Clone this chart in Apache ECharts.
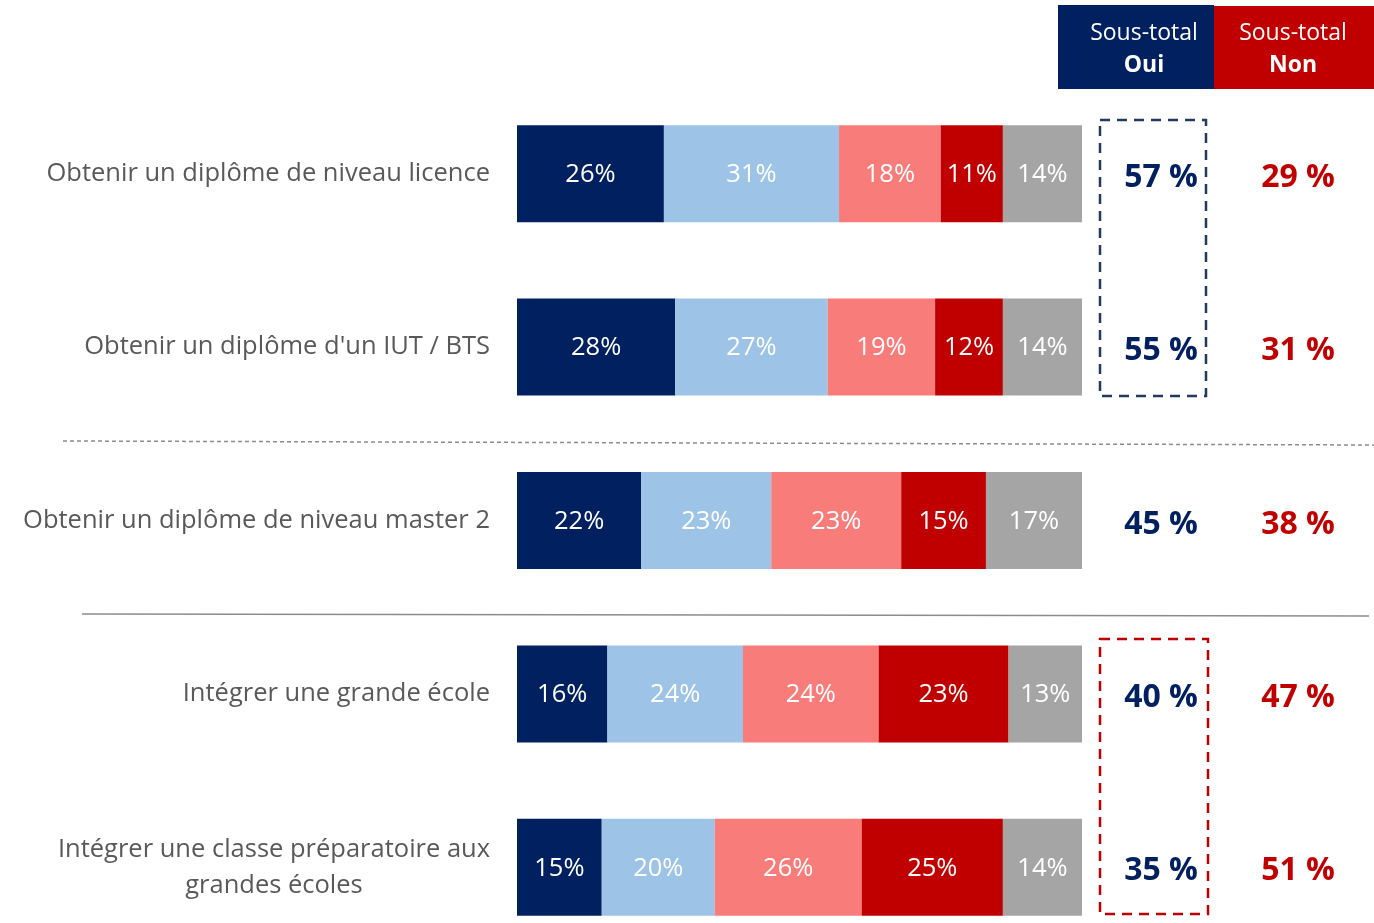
<!DOCTYPE html>
<html>
<head>
<meta charset="utf-8">
<script src="https://cdn.jsdelivr.net/npm/echarts@6/dist/echarts.min.js"></script>
<style>
  html, body { margin: 0; padding: 0; background: #fff; }
  #main_chart { width: 1374px; height: 923px; }
</style>
</head>
<body>
<div id="main_chart"></div>
<script>
// données
var categories = [
    "Obtenir un diplôme de niveau licence",
    "Obtenir un diplôme d'un IUT / BTS",
    "Obtenir un diplôme de niveau master 2",
    "Intégrer une grande école",
    "Intégrer une classe préparatoire aux\ngrandes écoles"
];
var ouiToutAFait = [26, 28, 22, 16, 15];
var ouiPlutot = [31, 27, 23, 24, 20];
var nonPlutotPas = [18, 19, 23, 24, 26];
var nonPasDuTout = [11, 12, 15, 23, 25];
var nsp = [14, 14, 17, 13, 14];
var sousTotalOui = [57, 55, 45, 40, 35];
var sousTotalNon = [29, 31, 38, 47, 51];

var FONT = "'Open Sans'";
var colors = ['#002060', '#9DC3E6', '#F87C79', '#C00000', '#A5A5A5'];

function makeSeries(name, data, color) {
    return {
        name: name,
        type: 'bar',
        stack: 'total',
        barWidth: 97,
        data: data,
        itemStyle: { color: color },
        label: {
            show: true,
            position: 'inside',
            offset: [0, 1],
            formatter: '{c}%',
            color: '#fff',
            fontSize: 25.5,
            fontFamily: FONT
        }
    };
}

var option = {
    animation: false,
    grid: { left: 517, top: 87, width: 565, height: 867, outerBoundsMode: 'none' },
    xAxis: {
        type: 'value',
        min: 0,
        max: 100,
        show: false
    },
    yAxis: {
        type: 'category',
        inverse: true,
        data: categories,
        axisLine: { show: false },
        axisTick: { show: false },
        axisLabel: {
            margin: 27,
            align: 'right',
            color: '#595959',
            fontSize: 25.5,
            fontFamily: FONT,
            formatter: function (v) {
                if (v.indexOf('\n') >= 0) {
                    var parts = v.split('\n');
                    return '{c|' + parts[0] + '}\n{c|' + parts[1] + '}';
                }
                return v;
            },
            rich: {
                c: {
                    width: 432,
                    align: 'center',
                    color: '#595959',
                    fontSize: 25.5,
                    lineHeight: 36,
                    fontFamily: FONT
                }
            }
        }
    },
    series: [
        makeSeries('Oui, tout à fait', ouiToutAFait, colors[0]),
        makeSeries('Oui, plutôt', ouiPlutot, colors[1]),
        makeSeries('Non, plutôt pas', nonPlutotPas, colors[2]),
        makeSeries('Non, pas du tout', nonPasDuTout, colors[3]),
        makeSeries('Ne sait pas', nsp, colors[4])
    ]
};

var dom = document.getElementById("main_chart");
var myChart = echarts.init(dom);
myChart.setOption(option, true);

// en-têtes, séparateurs, cadres et sous-totaux
var graphics = [
    { type: 'rect', shape: { x: 1058, y: 5, width: 156, height: 84 }, style: { fill: '#002060' } },
    { type: 'rect', shape: { x: 1214, y: 6, width: 160, height: 83 }, style: { fill: '#C00000' } },
    { type: 'text', x: 1144, y: 33, style: { text: 'Sous-total', fill: '#fff', font: '23px ' + FONT, textAlign: 'center', textVerticalAlign: 'middle' } },
    { type: 'text', x: 1144, y: 65, style: { text: 'Oui', fill: '#fff', font: 'bold 23px ' + FONT, textAlign: 'center', textVerticalAlign: 'middle' } },
    { type: 'text', x: 1293, y: 33, style: { text: 'Sous-total', fill: '#fff', font: '23px ' + FONT, textAlign: 'center', textVerticalAlign: 'middle' } },
    { type: 'text', x: 1293, y: 65, style: { text: 'Non', fill: '#fff', font: 'bold 23px ' + FONT, textAlign: 'center', textVerticalAlign: 'middle' } },
    { type: 'line', shape: { x1: 63, y1: 441, x2: 1374, y2: 445 }, style: { stroke: '#8c8c8c', lineWidth: 1.5, lineDash: [4, 3] } },
    { type: 'line', shape: { x1: 82, y1: 614, x2: 1369, y2: 616 }, style: { stroke: '#8c8c8c', lineWidth: 1.3 } },
    { type: 'rect', shape: { x: 1100, y: 120, width: 106, height: 276 }, style: { fill: 'none', stroke: '#223a5e', lineWidth: 2.5, lineDash: [10, 7] } },
    { type: 'rect', shape: { x: 1100, y: 639, width: 108, height: 275 }, style: { fill: 'none', stroke: '#C00000', lineWidth: 2.5, lineDash: [10, 7] } }
];

for (var i = 0; i < categories.length; i++) {
    var y = myChart.convertToPixel({ yAxisIndex: 0 }, categories[i]) + 4;
    graphics.push({ type: 'text', x: 1161, y: y, style: { text: sousTotalOui[i] + ' %', fill: '#002060', font: 'bold 32px ' + FONT, textAlign: 'center', textVerticalAlign: 'middle' } });
    graphics.push({ type: 'text', x: 1298, y: y, style: { text: sousTotalNon[i] + ' %', fill: '#C00000', font: 'bold 32px ' + FONT, textAlign: 'center', textVerticalAlign: 'middle' } });
}

myChart.setOption({ graphic: graphics });
</script>
</body>
</html>
